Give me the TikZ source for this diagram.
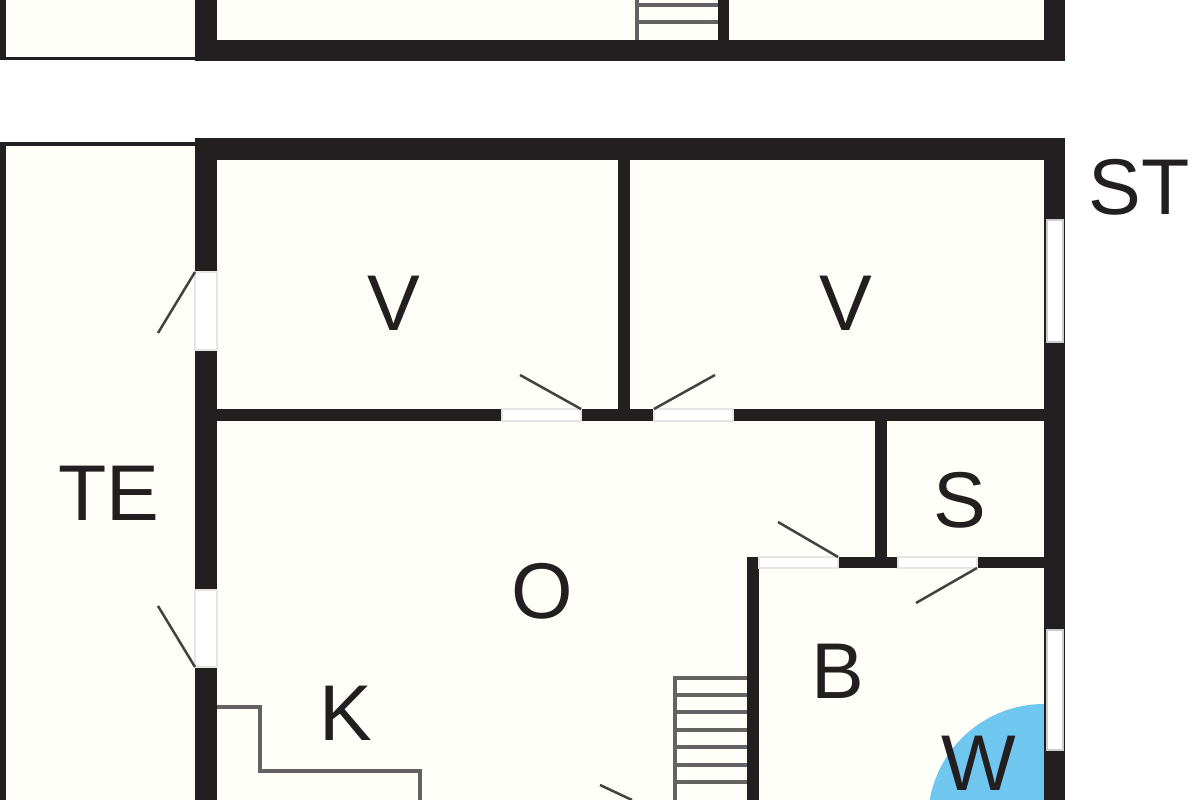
\documentclass[tikz,border=0pt]{standalone}
\usepackage{fontspec}
\setmainfont{Liberation Sans}
\definecolor{wallblack}{HTML}{231F20}
\definecolor{roomcream}{HTML}{FFFFFA}
\definecolor{wetblue}{HTML}{6FC7F0}
\tikzset{
  wall/.style={fill=wallblack,draw=none},
  opening/.style={fill=white,draw=black!10,line width=0.12mm},
  pane/.style={fill=white,draw=black!20,line width=0.12mm},
  leaf/.style={draw=wallblack!85,line width=0.25mm},
  fixture/.style={draw=wallblack!70,line width=0.33mm},
  room/.style={text=wallblack,font=\fontsize{22.5}{25}\selectfont,inner sep=0pt}
}
\begin{document}
\begin{tikzpicture}
\useasboundingbox (0,0) rectangle (12,8);
\clip (0,0) rectangle (12,8);
\fill[white] (0,0) rectangle (12,8);
\fill[roomcream] (0,7.40) rectangle (10.44,8);
\fill[roomcream] (0,0) rectangle (10.44,6.58);

% wet zone
\fill[wetblue] (10.44,-0.20) -- (9.28,-0.20) arc (180:90:1.16) -- cycle;

% upper floor
\fill[wall] (1.95,7.39) rectangle (2.17,8);
\fill[wall] (1.95,7.39) rectangle (10.65,7.60);
\fill[wall] (10.44,7.39) rectangle (10.65,8);
\fill[wall] (7.18,7.60) rectangle (7.29,8);
\fill[wall] (0,7.40) rectangle (1.95,7.43);
\fill[wall] (0,7.40) rectangle (0.06,8);
\draw[fixture] (6.37,7.60) -- (6.37,8);
\foreach \y in {7.78,7.95}
  \draw[fixture] (6.37,\y) -- (7.18,\y);

% outer walls
\fill[wall] (1.95,6.40) rectangle (10.65,6.62);
\fill[wall] (1.95,5.28) rectangle (2.17,6.62);
\fill[wall] (1.95,2.10) rectangle (2.17,4.50);
\fill[wall] (1.95,0) rectangle (2.17,1.33);
\fill[wall] (10.44,0) rectangle (10.65,6.62);
\fill[wall] (0,6.54) rectangle (1.95,6.58);
\fill[wall] (0,0) rectangle (0.06,6.58);

% inner walls
\fill[wall] (6.18,3.91) rectangle (6.30,6.40);
\fill[wall] (2.17,3.79) rectangle (5.02,3.91);
\fill[wall] (5.81,3.79) rectangle (6.54,3.91);
\fill[wall] (7.33,3.79) rectangle (10.44,3.91);
\fill[wall] (8.75,2.43) rectangle (8.87,3.79);
\fill[wall] (7.47,0) rectangle (7.59,2.43);
\fill[wall] (8.38,2.32) rectangle (8.98,2.43);
\fill[wall] (9.77,2.32) rectangle (10.44,2.43);

% openings
\draw[opening] (1.95,4.50) rectangle (2.17,5.28);
\draw[opening] (1.95,1.33) rectangle (2.17,2.10);
\draw[opening] (5.02,3.79) rectangle (5.81,3.91);
\draw[opening] (6.54,3.79) rectangle (7.33,3.91);
\draw[opening] (7.59,2.32) rectangle (8.38,2.43);
\draw[opening] (8.98,2.32) rectangle (9.77,2.43);

% windows
\draw[pane] (10.47,4.58) rectangle (10.63,5.80);
\draw[pane] (10.47,0.50) rectangle (10.63,1.70);

% door leaves
\draw[leaf] (1.95,5.28) -- (1.58,4.67);
\draw[leaf] (1.95,1.33) -- (1.58,1.94);
\draw[leaf] (5.81,3.91) -- (5.20,4.25);
\draw[leaf] (6.54,3.91) -- (7.15,4.25);
\draw[leaf] (8.38,2.43) -- (7.78,2.78);
\draw[leaf] (9.77,2.32) -- (9.16,1.97);
\draw[leaf] (6.32,0) -- (6.00,0.15);

% stairs
\draw[fixture] (6.75,0) -- (6.75,1.22) -- (7.47,1.22);
\foreach \y in {1.05,0.88,0.70,0.53,0.35,0.18}
  \draw[fixture] (6.75,\y) -- (7.47,\y);

% kitchen counter
\draw[fixture] (2.17,0.93) -- (2.60,0.93) -- (2.60,0.29) -- (4.20,0.29) -- (4.20,0);

\node[room] (st) at (11.39,6.13) {ST};
\node[room] (vleft) at (3.94,4.97) {V};
\node[room] (vright) at (8.46,4.97) {V};
\node[room] (te) at (1.09,3.07) {TE};
\node[room] (s) at (9.60,3.00) {S};
\node[room] (o) at (5.42,2.09) {O};
\node[room] (b) at (8.38,1.29) {B};
\node[room] (k) at (3.46,0.87) {K};
\node[room] (w) at (9.79,0.37) {W};
\end{tikzpicture}
\end{document}
